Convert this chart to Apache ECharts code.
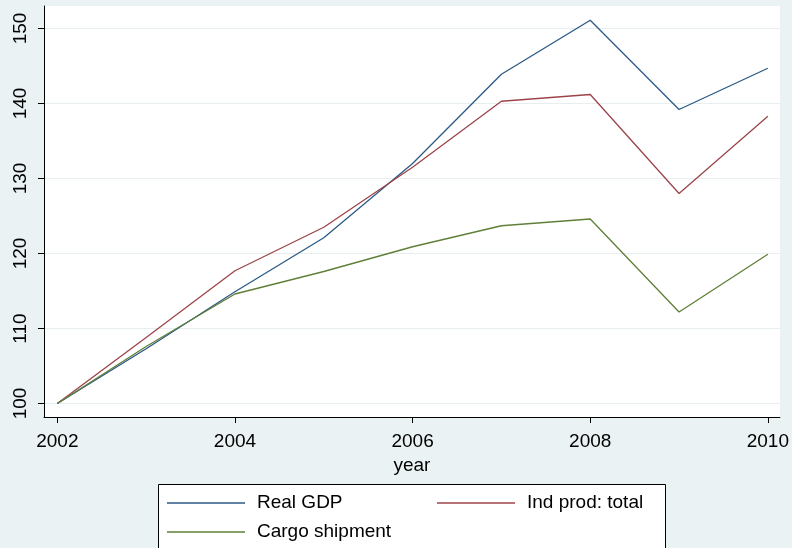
<!DOCTYPE html>
<html>
<head>
<meta charset="utf-8">
<script src="https://cdn.jsdelivr.net/npm/echarts@6/dist/echarts.min.js"></script>
<style>
  html, body { margin: 0; padding: 0; background: #eaf2f3; }
  #chart { width: 792px; height: 548px; }
</style>
</head>
<body>
<div id="chart"></div>
<script>
// 年份与三条指数 (2002 = 100)
var years = [2002, 2003, 2004, 2005, 2006, 2007, 2008, 2009, 2010];
var realGdp = [100, 107.3, 114.9, 122.1, 132.0, 143.9, 151.1, 139.2, 144.7];
var indProd = [100, 108.8, 117.7, 123.5, 131.5, 140.3, 141.2, 128.0, 138.3];
var cargo = [100, 107.6, 114.6, 117.6, 120.9, 123.7, 124.6, 112.2, 119.9];

// 刻度标签
var xTicks = [2002, 2004, 2006, 2008, 2010];
var yTicks = [100, 110, 120, 130, 140, 150];

function pairs(vals) {
    return years.map(function (y, i) { return [y, vals[i]]; });
}

var font = 'Liberation Sans, Arial, sans-serif';
var myChart = echarts.init(document.getElementById('chart'));

var legendText = { color: '#000', fontFamily: font, fontSize: 19, lineHeight: 20, padding: [0, 0, 0, 7] };

var option = {
    backgroundColor: '#eaf2f3',
    animation: false,
    grid: {
        left: 44,
        top: 6,
        right: 12,
        bottom: 131,
        show: true,
        backgroundColor: '#ffffff',
        borderWidth: 0
    },
    xAxis: {
        type: 'value',
        min: 2001.85,
        max: 2010.135,
        name: 'year',
        nameLocation: 'middle',
        nameGap: 35,
        nameTextStyle: { color: '#000', fontFamily: font, fontSize: 19 },
        axisLine: { onZero: false, lineStyle: { color: '#000', width: 1 } },
        axisTick: { show: true, length: 6, customValues: xTicks, lineStyle: { color: '#000' } },
        axisLabel: {
            customValues: xTicks, margin: 15, color: '#000', fontFamily: font, fontSize: 19,
            formatter: function (v) { return String(v); }
        },
        splitLine: { show: false }
    },
    yAxis: {
        type: 'value',
        min: 98.2,
        max: 153,
        axisLine: { show: true, onZero: false, lineStyle: { color: '#000', width: 1 } },
        axisTick: { show: true, length: 6, customValues: yTicks, lineStyle: { color: '#000' } },
        axisLabel: { customValues: yTicks, rotate: 90, margin: 14, color: '#000', fontFamily: font, fontSize: 19 },
        splitLine: { show: true, lineStyle: { color: '#e6eef0', width: 1 } }
    },
    graphic: [{
        type: 'rect',
        shape: { x: 158.5, y: 484.5, width: 507, height: 90 },
        style: { fill: '#ffffff', stroke: '#000', lineWidth: 1 },
        z: 0
    }],
    legend: [{
        data: ['Real GDP', 'Cargo shipment'],
        orient: 'vertical',
        left: 167,
        top: 493,
        padding: 0,
        icon: 'rect',
        itemWidth: 78,
        itemHeight: 1.3,
        itemGap: 9,
        textStyle: legendText
    }, {
        data: ['Ind prod: total'],
        orient: 'vertical',
        left: 437,
        top: 493,
        padding: 0,
        icon: 'rect',
        itemWidth: 78,
        itemHeight: 1.3,
        textStyle: legendText
    }],
    series: [{
        name: 'Real GDP',
        type: 'line',
        symbol: 'none',
        lineStyle: { color: '#2b5a86', width: 1.3 },
        itemStyle: { color: '#2b5a86' },
        data: pairs(realGdp)
    }, {
        name: 'Ind prod: total',
        type: 'line',
        symbol: 'none',
        lineStyle: { color: '#9c444a', width: 1.3 },
        itemStyle: { color: '#9c444a' },
        data: pairs(indProd)
    }, {
        name: 'Cargo shipment',
        type: 'line',
        symbol: 'none',
        lineStyle: { color: '#5f7f38', width: 1.3 },
        itemStyle: { color: '#5f7f38' },
        data: pairs(cargo)
    }]
};

myChart.setOption(option);
</script>
</body>
</html>
